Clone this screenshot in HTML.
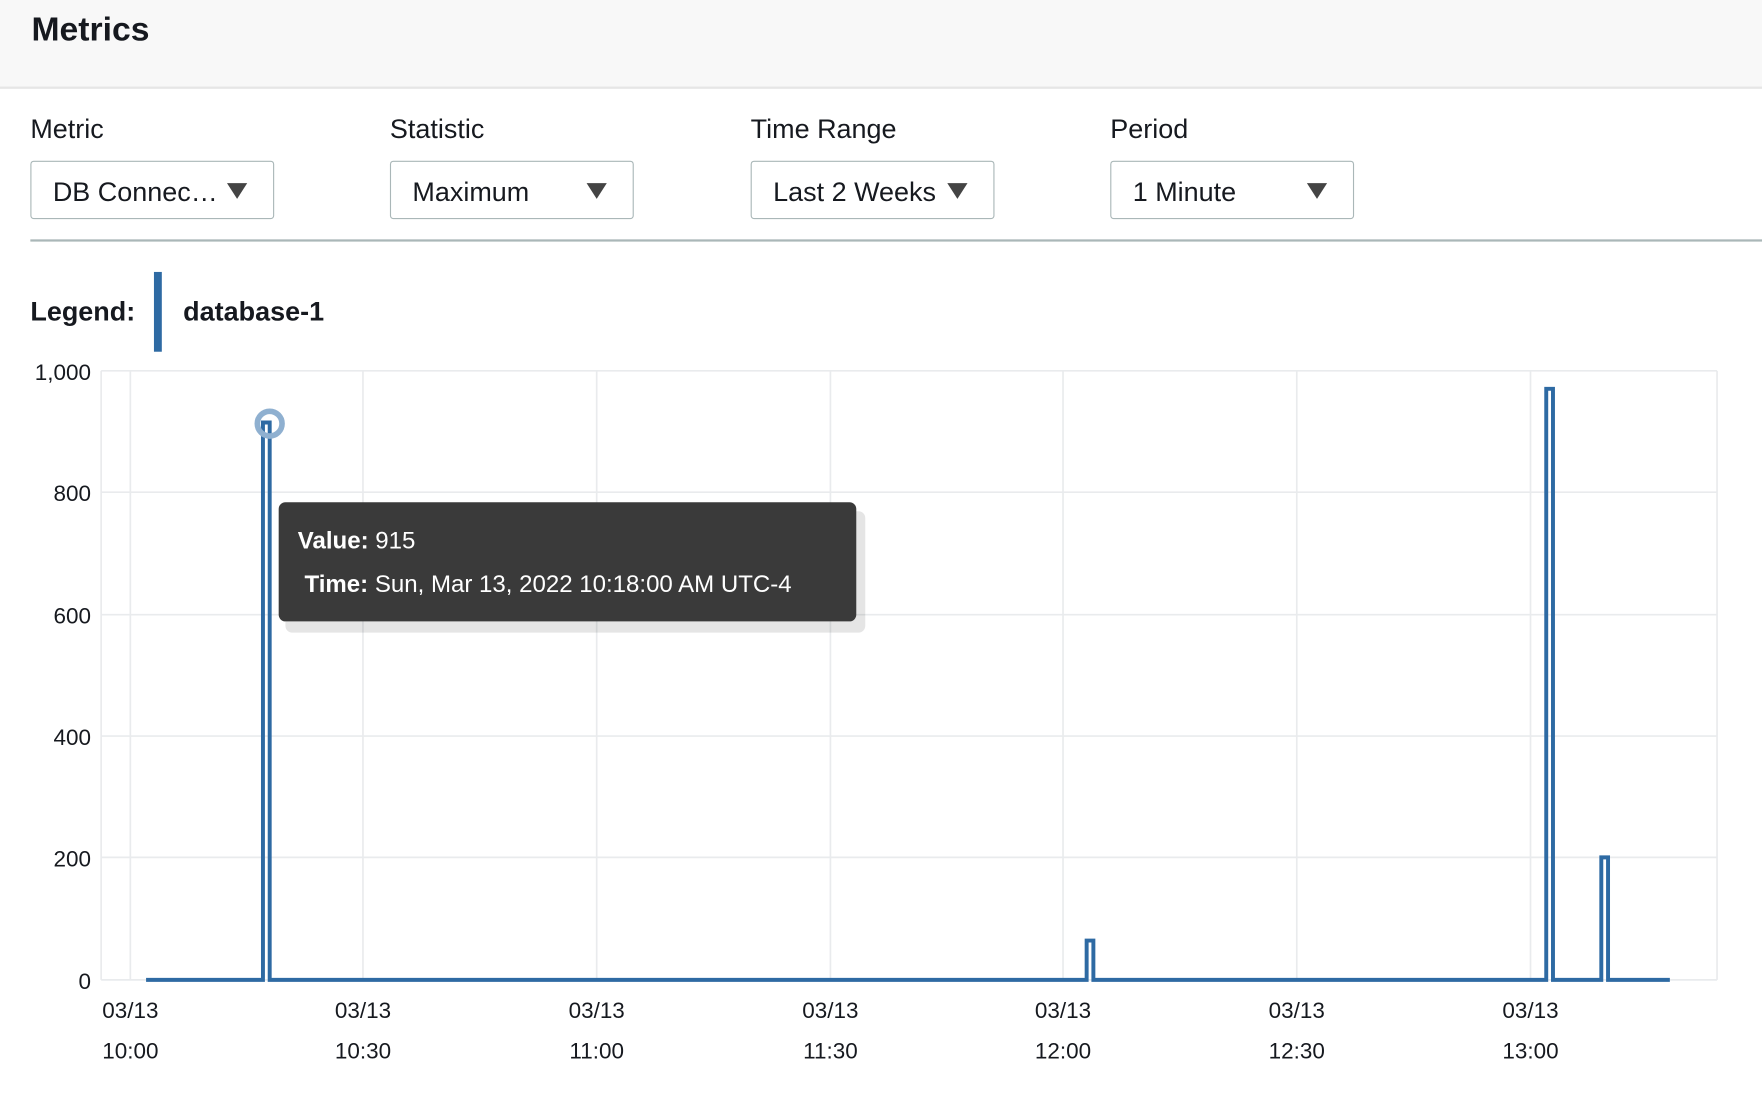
<!DOCTYPE html>
<html><head><meta charset="utf-8"><style>
html,body{margin:0;padding:0;background:#fff;overflow:hidden}
#w{width:1568px;height:991px;position:relative;transform:scale(1.12372);transform-origin:0 0;font-family:"Liberation Sans",sans-serif;color:#16191f}
.hdr{position:absolute;left:0;top:0;width:1568px;height:77px;background:#f8f8f8;border-bottom:2px solid #e6e6e6}
.t{position:absolute;font-size:24px;line-height:1}
.dd{position:absolute;top:143px;width:215px;height:50px;border:1px solid #aab7b8;border-radius:3px;background:#fff}
.dd span{position:absolute;left:19px;top:14px;font-size:24px}
.dd i{position:absolute;left:174px;top:19px;width:0;height:0;border-left:9px solid transparent;border-right:9px solid transparent;border-top:14px solid #444}
</style></head><body><div id="w">
<div class="hdr"></div>
<div class="t" style="left:28px;top:12px;font-size:30px;font-weight:bold">Metrics</div>
<div class="t" style="left:27px;top:104px">Metric</div>
<div class="t" style="left:347px;top:104px">Statistic</div>
<div class="t" style="left:668px;top:104px">Time Range</div>
<div class="t" style="left:988px;top:104px">Period</div>
<div class="dd" style="left:27px"><span>DB Connec…</span><i></i></div>
<div class="dd" style="left:347px"><span>Maximum</span><i></i></div>
<div class="dd" style="left:668px"><span>Last 2 Weeks</span><i></i></div>
<div class="dd" style="left:988px"><span>1 Minute</span><i></i></div>
<div style="position:absolute;left:27px;top:213px;width:1541px;height:2px;background:#aab7b8"></div>
<div class="t" style="left:27px;top:266px;font-weight:bold">Legend:</div>
<div style="position:absolute;left:137px;top:242px;width:7px;height:71px;background:#2e6aa3"></div>
<div class="t" style="left:163px;top:266px;font-weight:bold">database-1</div>
<svg style="position:absolute;left:0;top:0" width="1568" height="991" font-family="Liberation Sans, sans-serif" font-size="20" fill="#16191f">
<g stroke="#e9ebed" stroke-width="1.5">
<line x1="90" y1="330" x2="1528" y2="330"/><line x1="90" y1="438" x2="1528" y2="438"/><line x1="90" y1="547" x2="1528" y2="547"/><line x1="90" y1="655" x2="1528" y2="655"/><line x1="90" y1="763" x2="1528" y2="763"/><line x1="90" y1="872" x2="1528" y2="872"/>
<line x1="90" y1="330" x2="90" y2="872"/><line x1="1528" y1="330" x2="1528" y2="872"/>
<line x1="116" y1="330" x2="116" y2="872"/><line x1="323" y1="330" x2="323" y2="872"/><line x1="531" y1="330" x2="531" y2="872"/><line x1="739" y1="330" x2="739" y2="872"/><line x1="946" y1="330" x2="946" y2="872"/><line x1="1154" y1="330" x2="1154" y2="872"/><line x1="1362" y1="330" x2="1362" y2="872"/>
</g>
<g text-anchor="end"><text x="81" y="338">1,000</text><text x="81" y="446">800</text><text x="81" y="555">600</text><text x="81" y="663">400</text><text x="81" y="771">200</text><text x="81" y="880">0</text></g>
<g text-anchor="middle">
<text x="116" y="906">03/13</text><text x="116" y="942">10:00</text>
<text x="323" y="906">03/13</text><text x="323" y="942">10:30</text>
<text x="531" y="906">03/13</text><text x="531" y="942">11:00</text>
<text x="739" y="906">03/13</text><text x="739" y="942">11:30</text>
<text x="946" y="906">03/13</text><text x="946" y="942">12:00</text>
<text x="1154" y="906">03/13</text><text x="1154" y="942">12:30</text>
<text x="1362" y="906">03/13</text><text x="1362" y="942">13:00</text>
</g>
<polyline fill="none" stroke="#2e6aa3" stroke-width="3.5" points="130,872 234,872 234,376 240,376 240,872 967,872 967,837 973,837 973,872 1376,872 1376,346 1382,346 1382,872 1425,872 1425,763 1431,763 1431,872 1486,872"/>
<circle cx="240" cy="377" r="11" fill="none" stroke="#8fb0d0" stroke-width="5"/>
<rect x="254" y="455" width="516" height="108" rx="6" fill="#000" opacity="0.1"/>
<rect x="248" y="447" width="514" height="106" rx="6" fill="#3a3a3a"/>
<text x="265" y="488" fill="#fff" font-size="21.4"><tspan font-weight="bold">Value:</tspan> 915</text>
<text x="271" y="527" fill="#fff" font-size="21.4"><tspan font-weight="bold">Time:</tspan> Sun, Mar 13, 2022 10:18:00 AM UTC-4</text>
</svg>
</div></body></html>
